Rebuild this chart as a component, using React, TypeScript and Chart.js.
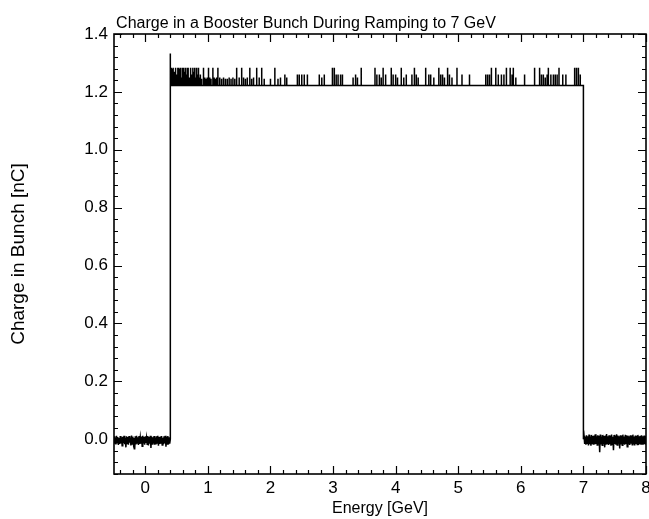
import React, { useEffect, useRef } from 'react';
import { Chart, registerables } from 'chart.js';

Chart.register(...registerables);

const chartTitle = 'Charge in a Booster Bunch During Ramping to 7 GeV';
const xAxisTitle = 'Energy [GeV]';
const yAxisTitle = 'Charge in Bunch [nC]';

const xTickValues = [0, 1, 2, 3, 4, 5, 6, 7, 8];
const yTickValues = [0, 0.2, 0.4, 0.6, 0.8, 1.0, 1.2, 1.4];

const rampStartEnergy = 0.4;
const rampEndEnergy = 7.0;
const plateauCharge = 1.222;
const preRampCharge = 0.0;

const leftNoiseX = [
  -0.5, -0.49, -0.48, -0.47, -0.46, -0.45, -0.44, -0.43, -0.42, -0.41,
  -0.4, -0.39, -0.38, -0.37, -0.36, -0.35, -0.34, -0.33, -0.32, -0.31,
  -0.3, -0.29, -0.28, -0.27, -0.26, -0.25, -0.24, -0.23, -0.22, -0.21,
  -0.2, -0.19, -0.18, -0.17, -0.16, -0.15, -0.14, -0.13, -0.12, -0.11,
  -0.1, -0.09, -0.08, -0.07, -0.06, -0.05, -0.04, -0.03, -0.02, -0.01,
  0.0, 0.01, 0.02, 0.03, 0.04, 0.05, 0.06, 0.07, 0.08, 0.09,
  0.1, 0.11, 0.12, 0.13, 0.14, 0.15, 0.16, 0.17, 0.18, 0.19,
  0.2, 0.21, 0.22, 0.23, 0.24, 0.25, 0.26, 0.27, 0.28, 0.29,
  0.3, 0.31, 0.32, 0.33, 0.34, 0.35, 0.36, 0.37, 0.38, 0.39,
];
const leftNoiseY = [
  0.01, -0.015, 0.006, -0.018, 0.012, -0.012, 0.008, -0.02, 0.004, -0.016,
  0.011, -0.014, 0.007, -0.022, 0.009, -0.013, 0.012, -0.017, 0.005, -0.028,
  0.01, -0.015, 0.008, -0.019, 0.011, -0.012, 0.006, -0.021, 0.013, -0.016,
  0.009, -0.014, 0.004, -0.035, 0.01, -0.018, 0.012, -0.013, 0.007, -0.02,
  0.011, -0.016, 0.006, -0.015, 0.009, -0.024, 0.012, -0.014, 0.008, -0.019,
  0.01, -0.013, 0.005, -0.017, 0.011, -0.021, 0.008, -0.015, 0.012, -0.03,
  0.009, -0.016, 0.007, -0.014, 0.011, -0.019, 0.006, -0.018, 0.01, -0.013,
  0.012, -0.022, 0.008, -0.016, 0.009, -0.015, 0.011, -0.02, 0.005, -0.017,
  0.01, -0.014, 0.012, -0.026, 0.008, -0.016, 0.011, -0.018, 0.007, -0.015,
];

const rightNoiseX = [
  7.01, 7.02, 7.03, 7.04, 7.05, 7.06, 7.07, 7.08, 7.09, 7.1,
  7.11, 7.12, 7.13, 7.14, 7.15, 7.16, 7.17, 7.18, 7.19, 7.2,
  7.21, 7.22, 7.23, 7.24, 7.25, 7.26, 7.27, 7.28, 7.29, 7.3,
  7.31, 7.32, 7.33, 7.34, 7.35, 7.36, 7.37, 7.38, 7.39, 7.4,
  7.41, 7.42, 7.43, 7.44, 7.45, 7.46, 7.47, 7.48, 7.49, 7.5,
  7.51, 7.52, 7.53, 7.54, 7.55, 7.56, 7.57, 7.58, 7.59, 7.6,
  7.61, 7.62, 7.63, 7.64, 7.65, 7.66, 7.67, 7.68, 7.69, 7.7,
  7.71, 7.72, 7.73, 7.74, 7.75, 7.76, 7.77, 7.78, 7.79, 7.8,
  7.81, 7.82, 7.83, 7.84, 7.85, 7.86, 7.87, 7.88, 7.89, 7.9,
  7.91, 7.92, 7.93, 7.94, 7.95, 7.96, 7.97, 7.98, 7.99, 8.0,
];
const rightNoiseY = [
  0.012, -0.016, 0.008, -0.019, 0.014, -0.014, 0.01, -0.021, 0.016, -0.017,
  0.009, -0.022, 0.015, -0.015, 0.011, -0.019, 0.013, -0.018, 0.017, -0.016,
  0.01, -0.02, 0.014, -0.017, 0.012, -0.045, 0.016, -0.018, 0.009, -0.021,
  0.015, -0.016, 0.011, -0.028, 0.013, -0.019, 0.018, -0.015, 0.01, -0.02,
  0.014, -0.017, 0.012, -0.022, 0.016, -0.018, 0.009, -0.038, 0.015, -0.016,
  0.011, -0.019, 0.017, -0.02, 0.013, -0.015, 0.01, -0.032, 0.014, -0.018,
  0.012, -0.021, 0.016, -0.017, 0.009, -0.019, 0.015, -0.016, 0.011, -0.026,
  0.013, -0.018, 0.01, -0.02, 0.014, -0.015, 0.012, -0.019, 0.016, -0.017,
  0.009, -0.021, 0.013, -0.016, 0.011, -0.018, 0.015, -0.02, 0.01, -0.017,
  0.012, -0.019, 0.014, -0.016, 0.01, -0.018, 0.013, -0.017, 0.011, -0.019,
];

const spikeX = [
  0.4, 0.415, 0.43, 0.445, 0.46, 0.475, 0.49, 0.505, 0.52, 0.535,
  0.55, 0.565, 0.58, 0.595, 0.61, 0.625, 0.64, 0.655, 0.67, 0.685,
  0.7, 0.715, 0.73, 0.745, 0.76, 0.775, 0.79, 0.805, 0.82, 0.835,
  0.85, 0.865, 0.88, 0.9, 0.93, 0.95, 0.97, 0.99, 1.01, 1.03,
  1.05, 1.08, 1.1, 1.12, 1.14, 1.16, 1.19, 1.22, 1.25, 1.28,
  1.31, 1.34, 1.37, 1.4, 1.43, 1.46, 1.5, 1.54, 1.57, 1.6,
  1.63, 1.67, 1.7, 1.73, 1.78, 1.82, 1.86, 1.9, 2.0, 2.07,
  2.12, 2.16, 2.23, 2.26, 2.43, 2.46, 2.5, 2.54, 2.59, 2.78,
  2.82, 2.86, 2.99, 3.02, 3.05, 3.08, 3.12, 3.15, 3.32, 3.36,
  3.39, 3.45, 3.67, 3.7, 3.74, 3.77, 3.8, 3.84, 3.93, 3.96,
  4.0, 4.03, 4.09, 4.13, 4.17, 4.26, 4.3, 4.33, 4.36, 4.48,
  4.53, 4.56, 4.61, 4.69, 4.72, 4.75, 4.78, 4.83, 4.86, 4.9,
  4.98, 5.06, 5.18, 5.44, 5.47, 5.5, 5.53, 5.6, 5.64, 5.69,
  5.73, 5.77, 5.83, 5.86, 5.88, 5.92, 6.06, 6.22, 6.3, 6.33,
  6.36, 6.39, 6.42, 6.44, 6.48, 6.52, 6.55, 6.58, 6.61, 6.67,
  6.72, 6.86, 6.89, 6.92, 6.95,
];
const spikeY = [
  1.333, 1.283, 1.28, 1.283, 1.27, 1.283, 1.283, 1.26, 1.283, 1.283,
  1.28, 1.283, 1.25, 1.283, 1.283, 1.27, 1.283, 1.26, 1.283, 1.283,
  1.25, 1.283, 1.283, 1.26, 1.283, 1.27, 1.283, 1.25, 1.283, 1.26,
  1.283, 1.25, 1.26, 1.245, 1.283, 1.25, 1.245, 1.25, 1.283, 1.25,
  1.245, 1.283, 1.25, 1.245, 1.25, 1.283, 1.25, 1.245, 1.25, 1.245,
  1.245, 1.25, 1.245, 1.25, 1.245, 1.283, 1.25, 1.283, 1.25, 1.245,
  1.25, 1.283, 1.245, 1.25, 1.283, 1.25, 1.283, 1.245, 1.245, 1.283,
  1.245, 1.25, 1.26, 1.25, 1.26, 1.26, 1.26, 1.26, 1.26, 1.26,
  1.25, 1.26, 1.283, 1.283, 1.26, 1.26, 1.26, 1.26, 1.25, 1.26,
  1.25, 1.283, 1.283, 1.26, 1.26, 1.25, 1.283, 1.26, 1.283, 1.26,
  1.26, 1.25, 1.283, 1.25, 1.26, 1.26, 1.283, 1.26, 1.25, 1.283,
  1.26, 1.26, 1.25, 1.283, 1.26, 1.26, 1.25, 1.283, 1.26, 1.25,
  1.283, 1.26, 1.26, 1.26, 1.26, 1.26, 1.283, 1.283, 1.26, 1.26,
  1.26, 1.283, 1.283, 1.26, 1.283, 1.25, 1.26, 1.283, 1.283, 1.26,
  1.26, 1.25, 1.26, 1.283, 1.26, 1.26, 1.26, 1.26, 1.283, 1.26,
  1.26, 1.283, 1.283, 1.283, 1.26,
];

function buildTrace() {
  const pts: { x: number; y: number }[] = [];
  leftNoiseX.forEach((x, i) => pts.push({ x, y: leftNoiseY[i] }));
  pts.push({ x: rampStartEnergy, y: preRampCharge });
  spikeX.forEach((x, i) => {
    pts.push({ x, y: plateauCharge });
    pts.push({ x, y: spikeY[i] });
    pts.push({ x, y: plateauCharge });
  });
  pts.push({ x: rampEndEnergy, y: plateauCharge });
  pts.push({ x: rampEndEnergy, y: preRampCharge });
  rightNoiseX.forEach((x, i) => pts.push({ x, y: rightNoiseY[i] }));
  return pts;
}

const FONT = "'Liberation Sans', Arial, sans-serif";

const framePlugin = {
  id: 'idlFrame',
  afterDraw(chart: any) {
    const { ctx, chartArea } = chart;
    const { left, right, top, bottom } = chartArea;
    const xs = chart.scales.x;
    const ys = chart.scales.y;
    ctx.save();
    ctx.strokeStyle = '#000';
    ctx.lineWidth = 1.6;
    ctx.strokeRect(left, top, right - left, bottom - top);
    ctx.lineWidth = 1.2;
    ctx.beginPath();
    const majorLen = 8;
    const minorLen = 4;
    for (let k = -2; k <= 40; k++) {
      const v = k * 0.2;
      if (v < xs.min - 1e-9 || v > xs.max + 1e-9) continue;
      const isMajor = k % 5 === 0;
      const len = isMajor ? majorLen : minorLen;
      const px = Math.round(xs.getPixelForValue(v)) + 0.5;
      ctx.moveTo(px, bottom);
      ctx.lineTo(px, bottom - len);
      ctx.moveTo(px, top);
      ctx.lineTo(px, top + len);
    }
    for (let k = -3; k <= 35; k++) {
      const v = k * 0.04;
      if (v < ys.min - 1e-9 || v > ys.max + 1e-9) continue;
      const isMajor = k % 5 === 0;
      const len = isMajor ? majorLen : minorLen;
      const py = Math.round(ys.getPixelForValue(v)) + 0.5;
      ctx.moveTo(left, py);
      ctx.lineTo(left + len, py);
      ctx.moveTo(right, py);
      ctx.lineTo(right - len, py);
    }
    ctx.stroke();
    ctx.fillStyle = '#000';
    ctx.font = `16px ${FONT}`;
    ctx.textAlign = 'center';
    ctx.textBaseline = 'alphabetic';
    ctx.fillText(chartTitle, 306, 28);
    ctx.restore();
  },
};

export default function App() {
  const ref = useRef<HTMLCanvasElement | null>(null);
  useEffect(() => {
    document.body.style.margin = '0';
    document.body.style.background = '#fff';
    const canvas = ref.current;
    if (!canvas) return;
    const chart = new Chart(canvas, {
      type: 'scatter',
      data: {
        datasets: [
          {
            data: buildTrace(),
            showLine: true,
            borderColor: '#000',
            borderWidth: 1.5,
            pointRadius: 0,
            tension: 0,
            fill: false,
          },
        ],
      },
      options: {
        animation: false,
        responsive: false,
        maintainAspectRatio: false,
        layout: { padding: { top: 34, right: 3, left: 0, bottom: 0 } },
        plugins: {
          legend: { display: false },
          tooltip: { enabled: false },
          title: { display: false },
        },
        scales: {
          x: {
            type: 'linear',
            position: 'bottom',
            min: -0.5,
            max: 8,
            grid: { display: false, drawTicks: false },
            border: { display: false },
            afterBuildTicks: (scale: any) => {
              scale.ticks = xTickValues.map((v) => ({ value: v }));
            },
            afterFit: (scale: any) => {
              scale.height = 45;
              scale.paddingLeft = 0;
              scale.paddingRight = 0;
            },
            ticks: {
              autoSkip: false,
              maxRotation: 0,
              padding: 4,
              color: '#000',
              font: { family: FONT, size: 17 },
              callback: (v: any) => String(v),
            },
            title: {
              display: true,
              text: xAxisTitle,
              color: '#000',
              font: { family: FONT, size: 16 },
              padding: { top: 0, bottom: 1 },
            },
          },
          y: {
            type: 'linear',
            position: 'left',
            min: -0.12,
            max: 1.4,
            grid: { display: false, drawTicks: false },
            border: { display: false },
            afterBuildTicks: (scale: any) => {
              scale.ticks = yTickValues.map((v) => ({ value: v }));
            },
            afterFit: (scale: any) => {
              scale.width = 114;
              scale.paddingTop = 0;
              scale.paddingBottom = 0;
            },
            ticks: {
              autoSkip: false,
              padding: 6,
              color: '#000',
              font: { family: FONT, size: 17 },
              callback: (v: any) => Number(v).toFixed(1),
            },
            title: {
              display: true,
              text: yAxisTitle,
              color: '#000',
              font: { family: FONT, size: 19 },
              padding: { top: 7, bottom: 0 },
            },
          },
        },
      },
      plugins: [framePlugin],
    });
    return () => chart.destroy();
  }, []);
  return (
    <div style={{ width: 649, height: 519, background: '#fff' }}>
      <canvas ref={ref} width={649} height={519} style={{ display: 'block' }} />
    </div>
  );
}
